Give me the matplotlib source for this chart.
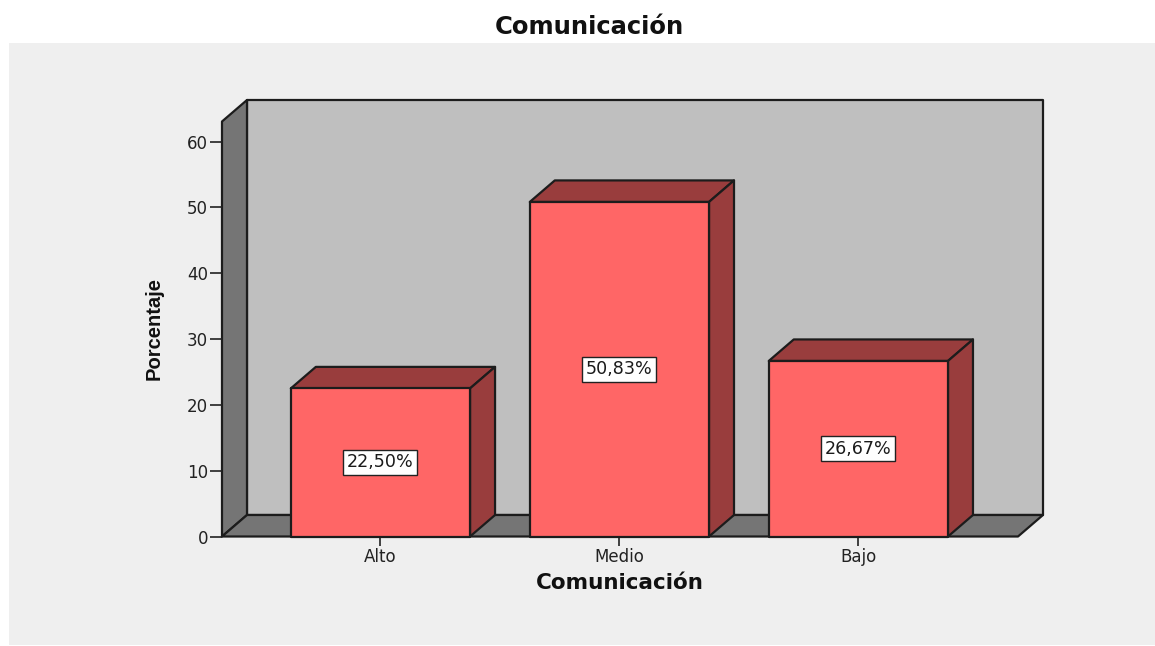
import matplotlib
matplotlib.use("Agg")
import matplotlib.pyplot as plt
from matplotlib.patches import Polygon, Rectangle

categories = ["Alto", "Medio", "Bajo"]
percentages = [22.50, 50.83, 26.67]
value_labels = ["22,50%", "50,83%", "26,67%"]
y_ticks = [0, 10, 20, 30, 40, 50, 60]

W, H = 1155, 646
plt.rcParams['font.family'] = ['DejaVu Sans']

fig = plt.figure(figsize=(W / 100, H / 100), dpi=100, facecolor='white')

# grey panel behind the plot, in pixels of the figure
fig.add_artist(Rectangle((9 / W, 1 / H), (W - 9) / W, 602 / H, transform=fig.transFigure,
                         facecolor='#efefef', edgecolor='none', zorder=-5))

ax = fig.add_axes([222 / W, (H - 536.5) / H, 796 / W, 415 / H])
ax.patch.set_visible(False)
ax.set_xlim(-0.663, 2.668)
ax.set_ylim(0, 63.05)

# depth of the fake 3D, in data units (25 px across, 21 px up)
dx = 25 / 239
dy = 21.5 / 6.58
x0, x1 = ax.get_xlim()
y0, y1 = ax.get_ylim()
edge = '#1c1c1c'


def poly(pts, color, lw=1.6, z=1):
    ax.add_patch(Polygon(pts, closed=True, facecolor=color, edgecolor=edge,
                         linewidth=lw, joinstyle='round', clip_on=False, zorder=z))


# walls and floor
poly([(x0 + dx, y0 + dy), (x1 + dx, y0 + dy), (x1 + dx, y1 + dy), (x0 + dx, y1 + dy)], '#bfbfbf')
poly([(x0, y0), (x0 + dx, y0 + dy), (x0 + dx, y1 + dy), (x0, y1)], '#757575')
poly([(x0, y0), (x1, y0), (x1 + dx, y0 + dy), (x0 + dx, y0 + dy)], '#757575')

# bars
bar_w = 0.75
for i, v in enumerate(percentages):
    l, r = i - bar_w / 2, i + bar_w / 2
    poly([(l, v), (r, v), (r + dx, v + dy), (l + dx, v + dy)], '#993d3d', z=3)
    poly([(r, 0), (r + dx, dy), (r + dx, v + dy), (r, v)], '#993d3d', z=3)
    poly([(l, 0), (r, 0), (r, v), (l, v)], '#ff6666', z=4)
    ax.text(i - 0.003, v / 2, value_labels[i], ha='center', va='center', fontsize=12.6,
            color='#1a1a1a', zorder=6,
            bbox=dict(boxstyle='square,pad=0.2', facecolor='white', edgecolor='#222222', linewidth=1))

for s in ax.spines.values():
    s.set_visible(False)

ax.set_xticks(range(len(categories)))
ax.set_xticklabels(categories, fontsize=12, color='#222222')
ax.set_yticks(y_ticks)
ax.set_yticklabels([str(t) for t in y_ticks], fontsize=12, color='#222222')
ax.tick_params(axis='x', length=6.5, width=1.2, color='#222222', pad=1.5)
ax.tick_params(axis='y', length=8.5, width=1.2, color='#222222', pad=1.5)

fig.text(620 / W, 1 - 583 / H, "Comunicación", ha='center', va='center', fontsize=15.5,
         fontweight='bold', color='#111111')
fig.text(589 / W, 1 - 27 / H, "Comunicación", ha='center', va='center', fontsize=17.5,
         fontweight='bold', color='#111111')
fig.text(154 / W, 1 - 329 / H, "Porcentaje", ha='center', va='center', rotation=90,
         fontsize=14.5, fontweight='bold', color='#111111', family=['Liberation Sans'])

fig.savefig("out.png", dpi=100)
